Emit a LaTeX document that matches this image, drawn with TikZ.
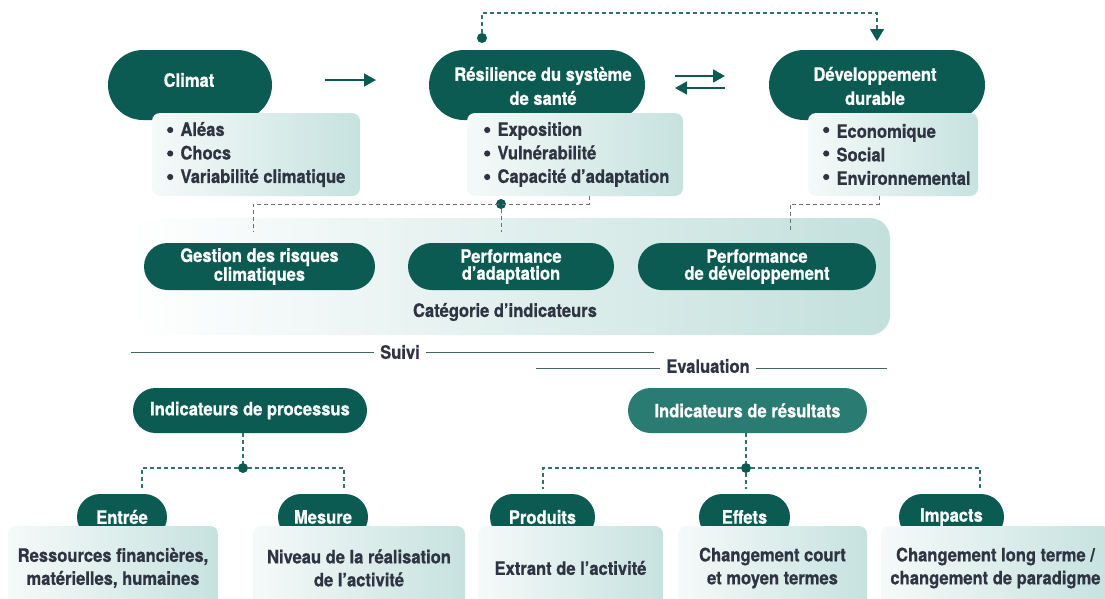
\documentclass[tikz,border=0pt]{standalone}
\usepackage{fontspec}
\setmainfont{TeX Gyre Heros}[FakeStretch=0.895, BoldFeatures={FakeBold=0.7}]
\usetikzlibrary{arrows.meta,calc,shapes.misc}
\definecolor{teal1}{HTML}{0C5B52}
\definecolor{teal2}{HTML}{2A7B71}
\definecolor{txt}{HTML}{2E3442}
\definecolor{boxL}{HTML}{F5FAF9}
\definecolor{boxR}{HTML}{C6E2DF}
\definecolor{dashT}{HTML}{2F7269}
\definecolor{dashG}{HTML}{707070}
\definecolor{catR}{HTML}{C3E0DC}
\definecolor{ruleC}{HTML}{3F6661}
\newcommand\ind{\hspace*{13.5pt}}
\begin{document}
\begin{tikzpicture}[x=1pt,y=-1pt,
  every node/.style={font=\fontsize{18.5}{23.5}\selectfont\bfseries, inner sep=0pt, outer sep=0pt},
  bigpill/.style={rounded rectangle, fill=teal1, minimum height=70pt},
  whitelab/.style={text=white, align=center, font=\fontsize{18.5}{24}\selectfont\bfseries},
  catpill/.style={rounded rectangle, fill=teal1, minimum height=47pt, text=white, align=center, font=\fontsize{18.5}{17}\selectfont\bfseries},
  indpill/.style={rounded rectangle, minimum height=45pt, text=white},
  tabpill/.style={rounded rectangle, fill=teal1, minimum height=46pt, text=white},
  lbox/.style={rectangle, rounded corners=8pt, left color=boxL, right color=boxR, minimum height=83pt},
  listtxt/.style={anchor=west, text=txt, align=left},
  bulletc/.style={fill=txt},
  bbox/.style={rectangle, rounded corners=8pt, left color=boxL, right color=boxR, text=txt, align=center, minimum height=84pt, font=\fontsize{18.5}{23}\selectfont\bfseries},
  catbg/.style={rectangle, rounded corners=20pt, left color=white, right color=catR},
  arr/.style={draw=teal1, line width=1.8pt, -{Triangle[length=12pt,width=13pt]}},
  tdash/.style={draw=dashT, line width=1.2pt, dash pattern=on 4pt off 3pt},
  gdash/.style={draw=dashG, line width=1pt, dash pattern=on 4pt off 3pt},
  jdot/.style={circle, fill=teal1, minimum size=10pt},
  rulel/.style={draw=ruleC, line width=1pt},
  capt/.style={text=txt, inner sep=6pt}
]
\useasboundingbox (0,0) rectangle (1105,598);

% ---- top row ----
\node[bigpill, minimum width=164pt] (climat) at (190,85) {};
\node[bigpill, minimum width=216pt] (resil) at (537,85) {};
\node[bigpill, minimum width=216pt] (dev) at (877,85) {};

\node[lbox, minimum width=208pt] (climbox) at (256,154.5) {};
\node[lbox, minimum width=216pt] (resilbox) at (575,154.5) {};
\node[lbox, minimum width=170pt] (devbox) at (893,154.5) {};

\node[listtxt] (climlist) at (167,154.5) {\ind Aléas\\\ind Chocs\\\ind Variabilité climatique};
\node[listtxt] (resillist) at (484,154.5) {\ind Exposition\\\ind Vulnérabilité\\\ind Capacité d’adaptation};
\node[listtxt] (devlist) at (823,154.5) {\ind Economique\\\ind Social\\\ind Environnemental};

\foreach \L in {climlist,resillist,devlist}
  \foreach \yy in {130,153.5,177}
    \fill[bulletc] (\L.west |- 0,\yy) ++(3.2,0) circle (3.1pt);

\node[whitelab] (climlab) at (189,80) {Climat};
\node[whitelab] (resillab) at (543,86) {Résilience du système\\de santé};
\node[whitelab] (devlab) at (875,86) {Développement\\durable};

\draw[arr, shorten <=53pt, shorten >=53pt] (climat.east |- climlab) -- (resil.west |- climlab);
\draw[arr, shorten <=30pt, shorten >=44pt] ($(resil.east)+(0,-9)$) -- ($(dev.west)+(0,-9)$);
\draw[arr, shorten <=44pt, shorten >=30pt] ($(dev.west)+(0,3)$) -- ($(resil.east)+(0,3)$);

\node[jdot] (fbdot) at (482,38) {};
\draw[tdash, -{Triangle[length=12pt,width=14pt,color=teal1]}, shorten >=9pt]
  (fbdot) -- ++(0,-25) -| (dev.north);

% ---- categories ----
\node[catbg, minimum width=760pt, minimum height=117pt] (catbg) at (510,276.5) {};
\node[catpill, minimum width=231pt] (gest) at (259.5,266.5) {Gestion des risques\\climatiques};
\node[catpill, minimum width=206pt] (padapt) at (511,266.5) {Performance\\d’adaptation};
\node[catpill, minimum width=238pt] (pdev) at (757,266.5) {Performance\\de développement};
\node[text=txt] (catlab) at (505,312) {Catégorie d’indicateurs};

\coordinate (rb) at ($(resilbox.south east)+(-94,0)$);
\coordinate (db) at ($(devbox.south)+(-14,0)$);
\node[jdot] (jc) at (501,204) {};
\draw[gdash, shorten >=11pt] (rb) -- ++(0,8) -| ($(gest.north)+(-6.5,0)$);
\draw[gdash, shorten >=11pt] (jc) -- (padapt.north -| jc);
\draw[gdash, shorten >=11pt] (db) -- ++(0,8) -| ($(pdev.north)+(33,0)$);

% ---- suivi / evaluation ----
\node[capt] (suivi) at (400,352) {Suivi};
\coordinate (sl) at (131,352);
\coordinate (sr) at (654,352);
\draw[rulel] (sl) -- (suivi.west);
\draw[rulel] (suivi.east) -- (sr);
\node[capt] (evalu) at (708,366) {Evaluation};
\coordinate (el) at (536,368);
\coordinate (er) at (887,368);
\draw[rulel] (el) -- (el -| evalu.west);
\draw[rulel] (er -| evalu.east) -- (er);

% ---- indicators ----
\node[indpill, fill=teal1, minimum width=234pt] (iproc) at (250,410.5) {Indicateurs de processus};
\node[indpill, fill=teal2, minimum width=239pt] (ires) at (747.5,410.5) {Indicateurs de résultats};

\node[tabpill, minimum width=90pt] (entree) at (122,517) {Entrée};
\node[tabpill, minimum width=90pt] (mesure) at (323,517) {Mesure};
\node[tabpill, minimum width=105pt] (produits) at (542.5,517) {Produits};
\node[tabpill, minimum width=91pt] (effets) at (744.5,517) {Effets};
\node[tabpill, minimum width=105pt] (impacts) at (951.5,517) {Impacts};

\node[bbox, minimum width=210pt] (entbox) at (113,568) {Ressources financières,\\matérielles, humaines};
\node[bbox, minimum width=212pt] (mesbox) at (359,568) {Niveau de la réalisation\\de l’activité};
\node[bbox, minimum width=185pt] (probox) at (570.5,568) {Extrant de l’activité};
\node[bbox, minimum width=189pt] (effbox) at (772.5,568) {Changement court\\et moyen termes};
\node[bbox, minimum width=229pt] (impbox) at (995.5,568) {Changement long terme /\\changement de paradigme};

\node[jdot] (jp) at (243,468) {};
\node[jdot] (jr) at (746,468) {};
\draw[tdash] (iproc.south -| jp) -- (jp);
\draw[tdash] (ires.south -| jr) -- (jr);
\draw[tdash, shorten >=5pt] (jp) -| ($(entree.north)+(20,0)$);
\draw[tdash, shorten >=5pt] (jp) -| ($(mesure.north)+(21,0)$);
\draw[tdash, shorten >=5pt] (jr) -| ($(produits.north)+(0.5,0)$);
\draw[tdash, shorten >=5pt] (jr) -- (effets.north -| jr);
\draw[tdash, shorten >=5pt] (jr) -| ($(impacts.north)+(28.5,0)$);
\end{tikzpicture}
\end{document}
